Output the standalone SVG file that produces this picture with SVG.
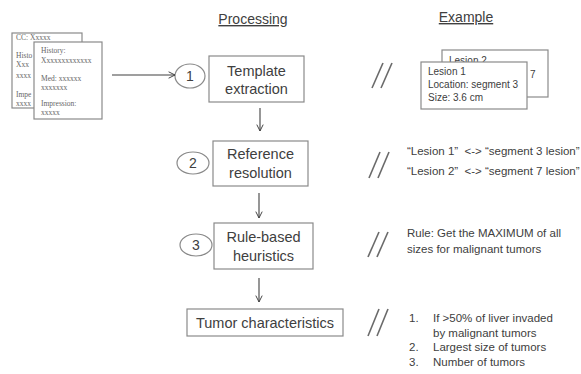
<svg xmlns="http://www.w3.org/2000/svg" width="581" height="374" viewBox="0 0 581 374">
  <defs>
    <marker id="arrow" viewBox="0 0 10 10" refX="9" refY="5" markerWidth="8" markerHeight="8" markerUnits="userSpaceOnUse" orient="auto">
      <path d="M1,1 L9,5 L1,9" fill="none" stroke="#404040" stroke-width="1.2"/>
    </marker>
  </defs>
  <style>
    .doc { fill: #fff; stroke: #8a8a8a; stroke-width: 1.2; }
    .doctxt { font-family: "Liberation Serif", serif; font-size: 7.5px; fill: #666; }
    .box { fill: #fff; stroke: #8a8a8a; stroke-width: 1.2; }
    .oval { fill: #fff; stroke: #8a8a8a; stroke-width: 1.2; }
    .lbl { font-family: "Liberation Sans", Arial, sans-serif; font-size: 14.5px; fill: #404040; text-anchor: middle; }
    .num { font-family: "Liberation Sans", Arial, sans-serif; font-size: 14px; fill: #404040; text-anchor: middle; }
    .head { font-family: "Liberation Sans", Arial, sans-serif; font-size: 14px; fill: #404040; text-anchor: middle; text-decoration: underline; }
    .ex { font-family: "Liberation Sans", Arial, sans-serif; font-size: 11.5px; fill: #404040; }
    .card { font-family: "Liberation Sans", Arial, sans-serif; font-size: 10px; fill: #404040; }
    .conn { fill: none; stroke: #404040; stroke-width: 1.1; marker-end: url(#arrow); }
    .slash { stroke: #6a6a6a; stroke-width: 1.6; }
  </style>

  <rect width="581" height="374" fill="#fff"/>

  <!-- column headings -->
  <text class="head" x="253" y="24">Processing</text>
  <text class="head" x="466" y="22">Example</text>

  <!-- input report documents: back sheet partly covered by the front one -->
  <g id="report-docs">
    <rect class="doc" x="12" y="33" width="70" height="75"/>
    <text class="doctxt" x="16" y="40">CC: Xxxxx</text>
    <text class="doctxt" x="16" y="58">Histo</text>
    <text class="doctxt" x="16" y="67">Xxx</text>
    <text class="doctxt" x="16" y="78">xxxx</text>
    <text class="doctxt" x="16" y="97">Impe</text>
    <text class="doctxt" x="16" y="106">xxxx</text>
    <rect class="doc" x="34" y="42" width="68" height="77"/>
    <text class="doctxt" x="41" y="53">History:</text>
    <text class="doctxt" x="41" y="63">Xxxxxxxxxxxxx</text>
    <text class="doctxt" x="41" y="81">Med: xxxxxx</text>
    <text class="doctxt" x="41" y="90">xxxxxxx</text>
    <text class="doctxt" x="41" y="106">Impression:</text>
    <text class="doctxt" x="41" y="115">xxxxx</text>
  </g>

  <!-- step 1 -->
  <g id="step1-num">
    <ellipse class="oval" cx="190" cy="76" rx="15" ry="12"/>
    <text class="num" x="190" y="81">1</text>
  </g>
  <g id="template-extraction">
    <rect class="box" x="209" y="56" width="95" height="46"/>
    <text class="lbl" x="256.5" y="76">Template</text>
    <text class="lbl" x="256.5" y="94">extraction</text>
  </g>

  <!-- step 2 -->
  <g id="step2-num">
    <ellipse class="oval" cx="193" cy="163" rx="16" ry="11"/>
    <text class="num" x="193" y="168">2</text>
  </g>
  <g id="reference-resolution">
    <rect class="box" x="213" y="141" width="95" height="45"/>
    <text class="lbl" x="260.5" y="159">Reference</text>
    <text class="lbl" x="260.5" y="178">resolution</text>
  </g>

  <!-- step 3 -->
  <g id="step3-num">
    <ellipse class="oval" cx="196" cy="245" rx="16" ry="11"/>
    <text class="num" x="196" y="250">3</text>
  </g>
  <g id="rule-heuristics">
    <rect class="box" x="214" y="223" width="99" height="46"/>
    <text class="lbl" x="263.5" y="242">Rule-based</text>
    <text class="lbl" x="263.5" y="261">heuristics</text>
  </g>

  <!-- output -->
  <g id="tumor-characteristics">
    <rect class="box" x="187" y="309" width="156" height="27"/>
    <text class="lbl" x="265" y="327.5">Tumor characteristics</text>
  </g>

  <!-- connectors -->
  <g id="connectors">
    <line class="conn" x1="112" y1="75" x2="175" y2="75"/>
    <line class="conn" x1="260" y1="108" x2="260" y2="131"/>
    <line class="conn" x1="259" y1="193" x2="259" y2="218"/>
    <line class="conn" x1="259" y1="278" x2="259" y2="302"/>
  </g>

  <!-- separators between process and example -->
  <g id="separators">
    <line class="slash" x1="383" y1="63" x2="372" y2="88"/>
    <line class="slash" x1="392" y1="63" x2="381" y2="88"/>
    <line class="slash" x1="380" y1="152" x2="369" y2="178"/>
    <line class="slash" x1="389" y1="152" x2="378" y2="178"/>
    <line class="slash" x1="379" y1="232" x2="368" y2="257"/>
    <line class="slash" x1="388" y1="232" x2="377" y2="257"/>
    <line class="slash" x1="379" y1="309" x2="368" y2="336"/>
    <line class="slash" x1="388" y1="309" x2="377" y2="336"/>
  </g>

  <!-- example: extracted templates (second card behind the first) -->
  <g id="example-templates">
    <rect class="box" x="442" y="50" width="106" height="47"/>
    <text class="card" x="449" y="64">Lesion 2</text>
    <text class="card" x="530" y="78">7</text>
    <rect class="box" x="421" y="62" width="106" height="47"/>
    <text class="card" x="428" y="75">Lesion 1</text>
    <text class="card" x="428" y="88">Location: segment 3</text>
    <text class="card" x="428" y="101">Size: 3.6 cm</text>
  </g>

  <!-- example: resolved references -->
  <g id="example-references">
    <text class="ex" x="407" y="155" xml:space="preserve">“Lesion 1”  &lt;-&gt; “segment 3 lesion”</text>
    <text class="ex" x="407" y="175" xml:space="preserve">“Lesion 2”  &lt;-&gt; “segment 7 lesion”</text>
  </g>

  <!-- example: rule -->
  <g id="example-rule">
    <text class="ex" x="407" y="237">Rule: Get the MAXIMUM of all</text>
    <text class="ex" x="407" y="253">sizes for malignant tumors</text>
  </g>

  <!-- example: output list -->
  <g id="example-output">
    <text class="ex" x="409" y="322">1.</text>
    <text class="ex" x="433" y="322">If &gt;50% of liver invaded</text>
    <text class="ex" x="433" y="337">by malignant tumors</text>
    <text class="ex" x="409" y="351">2.</text>
    <text class="ex" x="433" y="351">Largest size of tumors</text>
    <text class="ex" x="409" y="366">3.</text>
    <text class="ex" x="433" y="366">Number of tumors</text>
  </g>
</svg>
